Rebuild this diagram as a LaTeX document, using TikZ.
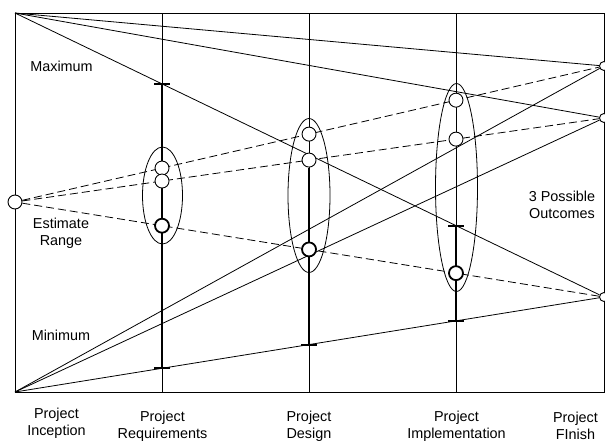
\documentclass[tikz,border=0pt]{standalone}
\usepackage{fontspec}
\setmainfont{Liberation Sans}
\usetikzlibrary{backgrounds,calc,shapes.geometric}
\begin{document}
\begin{tikzpicture}[x=1pt,y=-1pt,
  thinln/.style={line width=0.8pt},
  thickln/.style={line width=2pt},
  dashln/.style={line width=0.8pt, dash pattern=on 8pt off 4pt},
  dot/.style={circle, draw, fill=white, inner sep=0pt, minimum size=14pt, line width=0.9pt},
  bolddot/.style={dot, line width=1.8pt},
  enddot/.style={circle, draw, fill=white, inner sep=0pt, minimum size=9pt, line width=0.9pt},
  oval/.style={ellipse, draw, line width=0.8pt, inner sep=0pt},
  lbl/.style={font=\fontsize{14.4}{17}\selectfont, align=center, inner sep=0pt},
  ]
\useasboundingbox (0,0) rectangle (605,442);
% frame corners
\coordinate (TL) at (15,13);
\coordinate (BL) at (15,392);
\coordinate (TR) at (604,13);
\coordinate (BR) at (604,392);
% phase lines
\coordinate (reqT) at (162,13);  \coordinate (reqB) at (162,392);
\coordinate (desT) at (309,13);  \coordinate (desB) at (309,392);
\coordinate (impT) at (456,13);  \coordinate (impB) at (456,392);
% start and end estimates
\node[dot] (L) at (15,202) {};
\node[enddot] (R1) at (604,66) {};
\node[enddot] (R2) at (604,118) {};
\node[enddot] (R3) at (604,297) {};
% intermediate estimates
\node[dot] (a1) at ($(L.center)!0.2496!(R1.center)$) {};
\node[dot] (a2) at ($(L.center)!0.4992!(R1.center)$) {};
\node[dot] (a3) at ($(L.center)!0.7487!(R1.center)$) {};
\node[dot] (b1) at ($(L.center)!0.2496!(R2.center)$) {};
\node[dot] (b2) at ($(L.center)!0.4992!(R2.center)$) {};
\node[dot] (b3) at ($(L.center)!0.7487!(R2.center)$) {};
\node[bolddot] (c1) at ($(L.center)!0.2496!(R3.center)$) {};
\node[bolddot] (c2) at ($(L.center)!0.4992!(R3.center)$) {};
\node[bolddot] (c3) at ($(L.center)!0.7487!(R3.center)$) {};
% max / min marks
\coordinate (rmax) at ($(TL)!0.2496!(R3.center)$);
\coordinate (imax) at ($(TL)!0.7487!(R3.center)$);
\coordinate (rmin) at ($(BL)!0.2496!(R3.center)$);
\coordinate (dmin) at ($(BL)!0.4992!(R3.center)$);
\coordinate (imin) at ($(BL)!0.7487!(R3.center)$);
\begin{pgfonlayer}{background}
  \draw[thinln] (TL) rectangle (BR);
  \draw[thinln] (reqT) -- (reqB);
  \draw[thinln] (desT) -- (desB);
  \draw[thinln] (impT) -- (impB);
  \draw[thinln] (TL) -- (R1);
  \draw[thinln] (TL) -- (R2);
  \draw[thinln] (TL) -- (R3);
  \draw[thinln] (BL) -- (R1);
  \draw[thinln] (BL) -- (R2);
  \draw[thinln] (BL) -- (R3);
  \draw[dashln] (L) -- (R1);
  \draw[dashln] (L) -- (R2);
  \draw[dashln] (L) -- (R3);
  \draw[thickln] (rmax) -- (rmin);
  \draw[thickln] (b2) -- (dmin);
  \draw[thickln] (imax) -- (imin);
  \foreach \p in {rmax,imax,rmin,dmin,imin}
    \draw[thickln] ($(\p)+(-8,0)$) -- ($(\p)+(8,0)$);
  \node[oval, minimum width=40pt, minimum height=97pt] (e1) at (162.5,195.5) {};
  \node[oval, minimum width=42pt, minimum height=154pt] (e2) at (309,195.5) {};
  \node[oval, minimum width=42pt, minimum height=208pt] (e3) at (456.5,187.5) {};
\end{pgfonlayer}
% labels
\node[lbl] (tmax) at (61.5,66) {Maximum};
\node[lbl] (trange) at (61,233.5) {Estimate\\Range};
\node[lbl] (tmin) at (61,335) {Minimum};
\node[lbl] (tout) at (562,205.3) {3 Possible\\Outcomes};
\node[lbl] (tinc) at (56.5,423) {Project\\Inception};
\node[lbl] (treq) at (162.5,426.5) {Project\\Requirements};
\node[lbl] (tdes) at (309,426) {Project\\Design};
\node[lbl] (timp) at (456.5,426) {Project\\Implementation};
\node[lbl] (tfin) at (575.5,426) {Project\\FInish};
\end{tikzpicture}
\end{document}
